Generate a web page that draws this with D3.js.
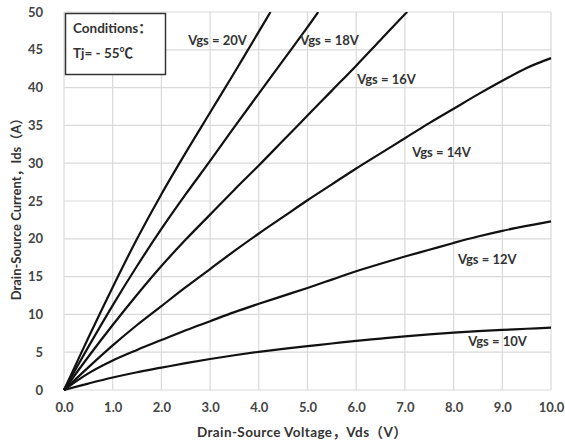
<!DOCTYPE html>
<html>
<head>
<meta charset="utf-8">
<script src="https://cdn.jsdelivr.net/npm/d3@7/dist/d3.min.js"></script>
<style>
  html, body { margin: 0; padding: 0; background: #fff; }
  svg { display: block; }
  text { font-family: Lato, "Noto Sans CJK SC", sans-serif; font-weight: 700; }
</style>
</head>
<body>
<svg id="chart" width="565" height="446"></svg>
<script>
// Output characteristics, Ids vs Vds, at several gate voltages
const xTicks = [0, 1, 2, 3, 4, 5, 6, 7, 8, 9, 10];
const yTicks = [0, 5, 10, 15, 20, 25, 30, 35, 40, 45, 50];

const vgs20 = [[0,0],[0.5,6.9],[1,13.6],[1.5,20.0],[2,25.9],[2.5,31.4],[3,36.7],[3.5,42.0],[4,47.4],[4.24,50]];
const vgs18 = [[0,0],[0.5,5.7],[1,11.2],[1.5,16.4],[2,21.3],[2.5,25.9],[3,30.3],[3.5,34.8],[4,39.2],[4.5,43.6],[5,48.0],[5.22,50]];
const vgs16 = [[0,0],[0.5,4.4],[1,8.6],[1.5,12.6],[2,16.4],[2.5,19.9],[3,23.2],[3.5,26.5],[4,29.7],[4.5,33.0],[5,36.3],[5.5,39.6],[6,42.9],[6.5,46.3],[7,49.7],[7.05,50]];
const vgs14 = [[0,0],[0.5,3.0],[1,5.9],[1.5,8.6],[2,11.1],[2.5,13.6],[3,16.0],[3.5,18.4],[4,20.7],[4.5,22.9],[5,25.1],[5.5,27.2],[6,29.3],[6.5,31.3],[7,33.3],[7.5,35.3],[8,37.2],[8.5,39.1],[9,40.9],[9.5,42.6],[10,43.9]];
const vgs12 = [[0,0],[0.5,2.2],[1,3.9],[1.5,5.3],[2,6.6],[2.5,7.9],[3,9.1],[3.5,10.3],[4,11.4],[4.5,12.45],[5,13.5],[5.5,14.6],[6,15.7],[6.5,16.7],[7,17.65],[7.5,18.55],[8,19.45],[8.5,20.3],[9,21.05],[9.5,21.7],[10,22.3]];
const vgs10 = [[0,0],[0.5,0.85],[1,1.65],[1.5,2.35],[2,2.95],[2.5,3.55],[3,4.1],[3.5,4.6],[4,5.05],[4.5,5.45],[5,5.8],[5.5,6.15],[6,6.5],[6.5,6.8],[7,7.1],[7.5,7.35],[8,7.6],[8.5,7.8],[9,7.95],[9.5,8.1],[10,8.25]];

const seriesNames = ["Vgs = 20V", "Vgs = 18V", "Vgs = 16V", "Vgs = 14V", "Vgs = 12V", "Vgs = 10V"];
const seriesData = [vgs20, vgs18, vgs16, vgs14, vgs12, vgs10];
// where each curve's name sits, in data units (left edge, baseline)
const labelAnchors = [[2.55, 45.6], [4.85, 45.6], [6.02, 40.5], [7.15, 30.8], [8.09, 16.7], [8.3, 5.8]];

const conditionLines = ["Conditions：", "Tj= - 55℃"];
const xTitle = "Drain-Source Voltage，Vds（V）";
const yTitle = "Drain-Source Current，Ids（A）";

const svg = d3.select("#chart");
const margin = { left: 64, right: 14, top: 12, bottom: 56 };
const W = 565, H = 446;

const x = d3.scaleLinear().domain([0, 10]).range([margin.left, W - margin.right]);
const y = d3.scaleLinear().domain([0, 50]).range([H - margin.bottom, margin.top]);

// grid
const grid = svg.append("g").attr("stroke", "#d9d9d9").attr("stroke-width", 1.2);
grid.selectAll("line.v").data(xTicks).join("line")
  .attr("x1", d => x(d)).attr("x2", d => x(d))
  .attr("y1", y(0)).attr("y2", y(50));
grid.selectAll("line.h").data(yTicks).join("line")
  .attr("y1", d => y(d)).attr("y2", d => y(d))
  .attr("x1", x(0)).attr("x2", x(10));

// axes (tick labels only)
const xAxis = svg.append("g")
  .attr("transform", `translate(0,${y(0)})`)
  .call(d3.axisBottom(x).tickValues(xTicks).tickFormat(d3.format(".1f")).tickSize(0).tickPadding(13));
const yAxis = svg.append("g")
  .attr("transform", `translate(${x(0)},0)`)
  .call(d3.axisLeft(y).tickValues(yTicks).tickSize(0).tickPadding(21));
[xAxis, yAxis].forEach(a => {
  a.select(".domain").remove();
  a.selectAll("text").attr("fill", "#444").attr("font-size", 13)
    .attr("font-family", "Lato, sans-serif").attr("font-weight", 700);
});

// curves
const line = d3.line().x(d => x(d[0])).y(d => y(d[1])).curve(d3.curveCatmullRom.alpha(0.5));
svg.append("defs").append("clipPath").attr("id", "plotClip")
  .append("rect").attr("x", x(0) - 2).attr("y", y(50)).attr("width", x(10) - x(0) + 4).attr("height", y(0) - y(50) + 2);
svg.append("g").attr("clip-path", "url(#plotClip)")
  .selectAll("path").data(seriesData).join("path")
  .attr("d", line)
  .attr("fill", "none")
  .attr("stroke", "#111")
  .attr("stroke-width", 2.2)
  .attr("stroke-linejoin", "round");

// curve names
svg.append("g").selectAll("text").data(seriesNames).join("text")
  .attr("x", (d, i) => x(labelAnchors[i][0]))
  .attr("y", (d, i) => y(labelAnchors[i][1]))
  .attr("font-size", 13)
  .attr("fill", "#333")
  .text(d => d);

// conditions box
const box = svg.append("g");
box.append("rect")
  .attr("x", 65.5).attr("y", 13.5).attr("width", 100).attr("height", 61)
  .attr("fill", "#fff").attr("stroke", "#333").attr("stroke-width", 1.5);
box.selectAll("text").data(conditionLines).join("text")
  .attr("x", 73).attr("y", (d, i) => 33 + i * 25)
  .attr("font-size", 13.5).attr("fill", "#333")
  .text(d => d);

// axis titles
svg.append("text")
  .attr("x", 302).attr("y", 437)
  .attr("text-anchor", "middle").attr("font-size", 13.5).attr("letter-spacing", 0.4).attr("fill", "#333")
  .text(xTitle);
svg.append("text")
  .attr("transform", `translate(21,${(y(0) + y(50)) / 2 + 5}) rotate(-90)`)
  .attr("text-anchor", "middle").attr("font-size", 13).attr("fill", "#333")
  .text(yTitle);
</script>
</body>
</html>
